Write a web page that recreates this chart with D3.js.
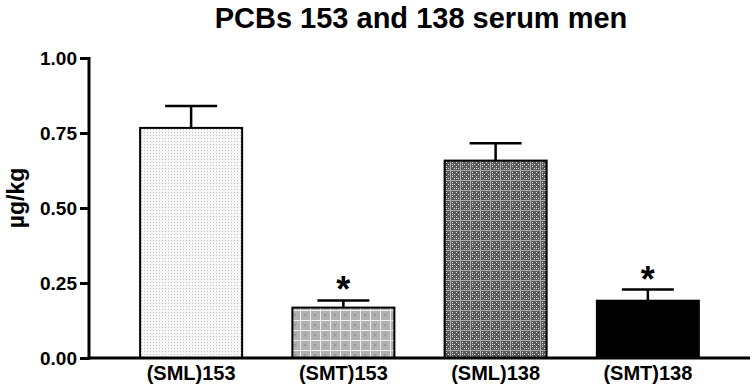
<!DOCTYPE html>
<html>
<head>
<meta charset="utf-8">
<script src="https://cdn.jsdelivr.net/npm/d3@7"></script>
<style>
  body { margin: 0; background: #fff; }
  svg { display: block; font-family: "Liberation Sans", Arial, sans-serif; }
</style>
</head>
<body>
<svg id="chart" width="752" height="385"></svg>
<script>
const categories = ['(SML)153', '(SMT)153', '(SML)138', '(SMT)138'];
const means = [0.767, 0.168, 0.658, 0.191];
const errors = [0.073, 0.024, 0.058, 0.037];
const significant = [false, true, false, true];
const yTicks = [0, 0.25, 0.5, 0.75, 1.0];

function renderChart() {
  const svg = d3.select('#chart');
  const defs = svg.append('defs');

  // fills: light dots, gray grid, dark checker, black
  const p1 = defs.append('pattern').attr('id', 'fill0')
    .attr('patternUnits', 'userSpaceOnUse').attr('width', 3).attr('height', 3);
  p1.append('rect').attr('width', 3).attr('height', 3).attr('fill', '#f6f6f6');
  p1.append('rect').attr('width', 1).attr('height', 1).attr('fill', '#c4c4c4');

  const p2 = defs.append('pattern').attr('id', 'fill1')
    .attr('patternUnits', 'userSpaceOnUse').attr('width', 10).attr('height', 10);
  p2.append('rect').attr('width', 10).attr('height', 10).attr('fill', '#b0b0b0');
  p2.append('rect').attr('width', 10).attr('height', 1).attr('fill', '#f0f0f0');
  p2.append('rect').attr('width', 1).attr('height', 10).attr('fill', '#f0f0f0');
  p2.append('rect').attr('x', 4).attr('y', 4).attr('width', 2).attr('height', 2).attr('fill', '#999');

  const p3 = defs.append('pattern').attr('id', 'fill2')
    .attr('patternUnits', 'userSpaceOnUse').attr('width', 10).attr('height', 10);
  p3.append('rect').attr('width', 10).attr('height', 10).attr('fill', '#5a5a5a');
  [[2, 2], [4, 4], [6, 6], [2, 6], [6, 2], [4, 8], [8, 4], [8, 8], [2, 4], [6, 8]].forEach(([x, y]) => {
    p3.append('rect').attr('x', x).attr('y', y).attr('width', 1).attr('height', 1).attr('fill', '#d8d8d8');
  });
  p3.append('rect').attr('width', 10).attr('height', 1).attr('fill', '#aaa');
  p3.append('rect').attr('width', 1).attr('height', 10).attr('fill', '#aaa');

  const fills = ['url(#fill0)', 'url(#fill1)', 'url(#fill2)', '#000'];

  const axisX = 89;
  const xScale = d3.scaleBand()
    .domain(categories)
    .range([115, 724])
    .paddingInner(0.33)
    .paddingOuter(0.165);

  const yScale = d3.scaleLinear()
    .domain([0, 1])
    .range([358, 58]);

  const g = svg.append('g');

  // bars
  g.selectAll('.bar')
    .data(categories)
    .enter()
    .append('rect')
    .attr('class', 'bar')
    .attr('x', d => xScale(d))
    .attr('y', (d, i) => yScale(means[i]))
    .attr('width', xScale.bandwidth())
    .attr('height', (d, i) => yScale(0) - yScale(means[i]))
    .attr('fill', (d, i) => fills[i])
    .attr('stroke', '#000')
    .attr('stroke-width', 2);

  // error bars (upper only)
  const capHalf = 26;
  categories.forEach((c, i) => {
    const cx = xScale(c) + xScale.bandwidth() / 2;
    const top = yScale(means[i] + errors[i]);
    g.append('line')
      .attr('x1', cx).attr('x2', cx)
      .attr('y1', yScale(means[i])).attr('y2', top)
      .attr('stroke', '#000').attr('stroke-width', 2.5);
    g.append('line')
      .attr('x1', cx - capHalf).attr('x2', cx + capHalf)
      .attr('y1', top).attr('y2', top)
      .attr('stroke', '#000').attr('stroke-width', 2.5);
    if (significant[i]) {
      g.append('text')
        .attr('x', cx)
        .attr('y', top + 2)
        .attr('text-anchor', 'middle')
        .style('font-size', '36px')
        .style('font-weight', 'bold')
        .text('*');
    }
  });

  // Y axis
  const yAxis = svg.append('g')
    .attr('transform', `translate(${axisX},0)`)
    .call(d3.axisLeft(yScale).tickValues(yTicks).tickFormat(d3.format('.2f')).tickSize(9).tickPadding(3));
  yAxis.select('.domain').attr('stroke-width', 3).attr('d', `M0,${yScale(1) - 1}V${yScale(0) + 1.5}`);
  yAxis.selectAll('.tick line').attr('stroke-width', 3);
  yAxis.selectAll('.tick text')
    .style('font-size', '19px')
    .style('font-weight', 'bold')
    .style('font-family', '"Liberation Sans", Arial, sans-serif')
    .attr('fill', '#000');

  // X axis
  const xAxis = svg.append('g')
    .attr('transform', `translate(0,${yScale(0)})`)
    .call(d3.axisBottom(xScale).tickSize(0).tickPadding(8));
  xAxis.select('.domain').attr('stroke-width', 3).attr('d', `M${axisX - 1.5},0H750`);
  xAxis.selectAll('.tick text')
    .style('font-size', '20px')
    .style('font-weight', 'bold')
    .style('font-family', '"Liberation Sans", Arial, sans-serif')
    .attr('fill', '#000');

  // Y label
  svg.append('text')
    .attr('transform', 'rotate(-90)')
    .attr('x', -198)
    .attr('y', 24)
    .style('text-anchor', 'middle')
    .style('font-size', '23px')
    .style('font-weight', 'bold')
    .text('µg/kg');

  // title
  svg.append('text')
    .attr('x', 421)
    .attr('y', 28)
    .style('text-anchor', 'middle')
    .style('font-size', '29px')
    .style('font-weight', 'bold')
    .text('PCBs 153 and 138 serum men');
}

renderChart();
</script>
</body>
</html>
